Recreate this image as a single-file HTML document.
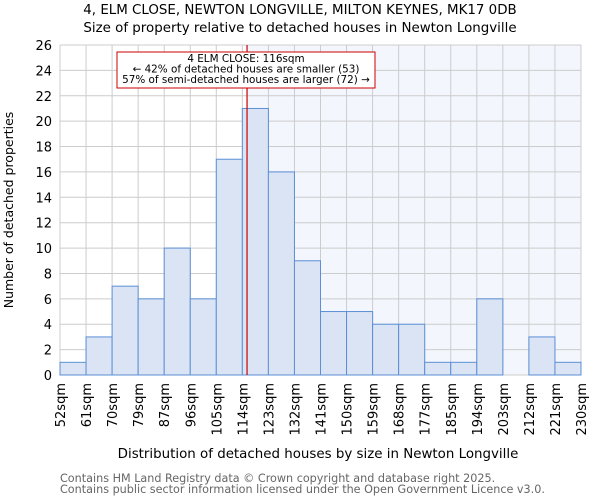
<!DOCTYPE html>
<html><head><meta charset="utf-8"><style>
body{margin:0;background:#fff;font-family:"DejaVu Sans","Liberation Sans",sans-serif}
svg text{font-family:"DejaVu Sans","Liberation Sans",sans-serif}
</style></head><body>
<svg id="chart" width="600" height="500">
<text x="300" y="14" text-anchor="middle" font-size="13.4">4, ELM CLOSE, NEWTON LONGVILLE, MILTON KEYNES, MK17 0DB</text>
<text x="300" y="32" text-anchor="middle" font-size="13.4">Size of property relative to detached houses in Newton Longville</text>
<g id="plot"></g>
<text x="318" y="458" text-anchor="middle" font-size="13.4">Distribution of detached houses by size in Newton Longville</text>
<text transform="translate(13,210) rotate(-90)" text-anchor="middle" font-size="12.5">Number of detached properties</text>
<text x="60" y="482" font-size="11.2" fill="#666">Contains HM Land Registry data © Crown copyright and database right 2025.</text>
<text x="60" y="493" font-size="11.2" fill="#666">Contains public sector information licensed under the Open Government Licence v3.0.</text>
</svg>
<script>
const binLabels=["52sqm","61sqm","70sqm","79sqm","87sqm","96sqm","105sqm","114sqm","123sqm","132sqm","141sqm","150sqm","159sqm","168sqm","177sqm","185sqm","194sqm","203sqm","212sqm","221sqm","230sqm"];
const counts=[1,3,7,6,10,6,17,21,16,9,5,5,4,4,1,1,6,0,3,1];
const yTicks=[0,2,4,6,8,10,12,14,16,18,20,22,24,26];
const markerBin=7.18;
const NS="http://www.w3.org/2000/svg";
const L=60,R=581,T=45,B=375,yMax=26;
const nb=counts.length;
const xs=i=>L+(R-L)*i/nb;
const ys=v=>B-(B-T)*v/yMax;
const g=document.getElementById('plot');
function mk(t,a){const e=document.createElementNS(NS,t);for(const k in a)e.setAttribute(k,a[k]);g.appendChild(e);return e;}
const mx=xs(markerBin);
let e=mk('rect',{x:mx,y:T,width:R-mx,height:B-T,fill:'#f3f6fd'});


yTicks.forEach(v=>{
 let l=mk('line',{x1:L,x2:R,y1:ys(v),y2:ys(v),stroke:'#ccc','stroke-width':1});
 
 
 let t=mk('text',{x:L-8,y:ys(v)+5,'text-anchor':'end','font-size':13});
 t.textContent=v;
 
 
});
binLabels.forEach((s,i)=>{
 let l=mk('line',{x1:xs(i),x2:xs(i),y1:T,y2:B,stroke:'#ccc','stroke-width':1});
 
 
 let t=mk('text',{transform:`translate(${xs(i)+5},${B+8}) rotate(-90)`,'text-anchor':'end','font-size':13});
 t.textContent=s;
 
 
});
counts.forEach((v,i)=>{
 if(v<=0)return;
 let r=mk('rect',{x:xs(i),y:ys(v),width:xs(i+1)-xs(i),height:B-ys(v),fill:'#dae4f4',stroke:'#5b8fd6','stroke-width':1});
 
 
});
e=mk('line',{x1:mx,x2:mx,y1:T,y2:B,stroke:'#c00','stroke-width':1.2});


e=mk('rect',{x:117,y:52,width:258,height:36,fill:'#fff',stroke:'#c00','stroke-width':1});


["4 ELM CLOSE: 116sqm","← 42% of detached houses are smaller (53)","57% of semi-detached houses are larger (72) →"].forEach((s,i)=>{
 let t=mk('text',{x:246,y:62+i*10.5,'text-anchor':'middle','font-size':10.4});
 t.textContent=s;
 
 
});
</script>
</body></html>
